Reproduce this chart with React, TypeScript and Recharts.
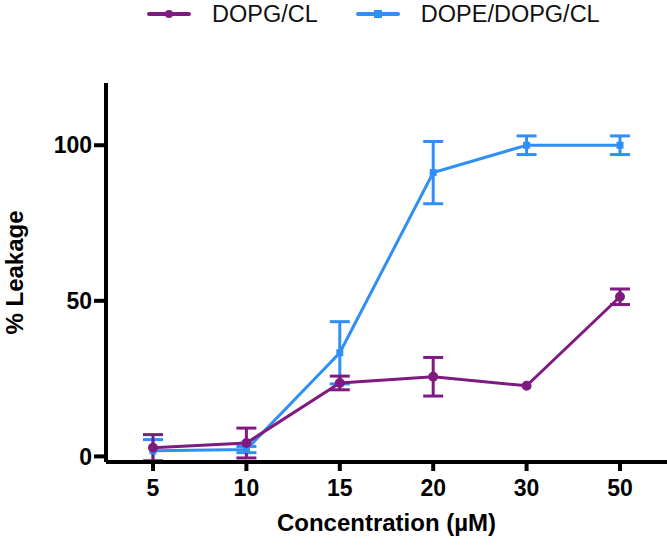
import React from 'react';
import { LineChart, Line, XAxis, YAxis, ErrorBar, Label } from 'recharts';

const concentrations = ['5', '10', '15', '20', '30', '50'];
const dopgCl = [2.8, 4.3, 23.6, 25.6, 22.7, 51.3];
const dopgClErr = [4.2, 4.8, 2.2, 6.2, 0, 2.5];
const dopeDopgCl = [1.8, 2.2, 33.3, 91.2, 100, 100];
const dopeDopgClErr = [3.6, 1, 10, 10, 3, 3];
const yTicks = [0, 50, 100];

const PURPLE = '#7f1a80';
const BLUE = '#2f8ff5';
const FONT = 'Arial, "Liberation Sans", sans-serif';

const data = concentrations.map((c, i) => ({
    conc: c,
    pg: dopgCl[i],
    pgErr: dopgClErr[i],
    pe: dopeDopgCl[i],
    peErr: dopeDopgClErr[i],
}));

const SquareDot = (props: any) => {
    const { cx, cy } = props;
    if (cx == null || cy == null) return null;
    return <rect x={cx - 3.5} y={cy - 3.5} width={7} height={7} fill={BLUE} />;
};

const LegendItem = ({ color, label, square }: { color: string; label: string; square?: boolean }) => (
    <div style={{ display: 'flex', alignItems: 'center' }}>
        <svg width={44} height={12} style={{ marginRight: 21 }}>
            <line x1={2} y1={6} x2={42} y2={6} stroke={color} strokeWidth={4} strokeLinecap="round" />
            {square ? <rect x={18} y={2} width={8} height={8} fill={color} /> : <circle cx={22} cy={6} r={4} fill={color} />}
        </svg>
        <span style={{ fontSize: 23.5, color: '#111', lineHeight: '28px' }}>{label}</span>
    </div>
);

const App: React.FC = () => {
    return (
        <div style={{ position: 'absolute', left: 0, top: 0, width: 667, height: 551, fontFamily: FONT, background: '#fff' }}>
            <div style={{ position: 'absolute', left: 147, top: 0, display: 'flex' }}>
                <LegendItem color={PURPLE} label="DOPG/CL" />
                <div style={{ width: 38 }} />
                <LegendItem color={BLUE} label="DOPE/DOPG/CL" square />
            </div>
            <LineChart width={667} height={551} data={data} margin={{ top: 83, right: 0, bottom: 0, left: 0 }}>
                <XAxis
                    dataKey="conc"
                    height={89}
                    padding={{ left: 47, right: 47 }}
                    axisLine={{ stroke: '#000', strokeWidth: 4 }}
                    tickLine={{ stroke: '#000', strokeWidth: 4 }}
                    tickSize={9}
                    tick={{ fill: '#000', fontSize: 23, fontWeight: 700, fontFamily: FONT }}
                    tickMargin={9}
                >
                    <Label value="Concentration (µM)" position="insideBottom" offset={20} style={{ fill: '#000', fontSize: 24, fontWeight: 700, fontFamily: FONT }} />
                </XAxis>
                <YAxis
                    width={106}
                    domain={[0, 120]}
                    ticks={yTicks}
                    axisLine={{ stroke: '#000', strokeWidth: 4 }}
                    tickLine={{ stroke: '#000', strokeWidth: 4 }}
                    tickSize={12}
                    tick={{ fill: '#000', fontSize: 23, fontWeight: 700, fontFamily: FONT }}
                    tickMargin={2}
                >
                    <Label value="% Leakage" angle={-90} position="insideLeft" offset={14} style={{ fill: '#000', fontSize: 24, fontWeight: 700, fontFamily: FONT, textAnchor: 'middle' }} />
                </YAxis>
                <Line
                    dataKey="pe"
                    stroke={BLUE}
                    strokeWidth={3}
                    dot={<SquareDot />}
                    isAnimationActive={false}
                >
                    <ErrorBar dataKey="peErr" width={10} stroke={BLUE} strokeWidth={3} direction="y" />
                </Line>
                <Line
                    dataKey="pg"
                    stroke={PURPLE}
                    strokeWidth={3}
                    dot={{ r: 3.5, fill: PURPLE, stroke: PURPLE }}
                    isAnimationActive={false}
                >
                    <ErrorBar dataKey="pgErr" width={10} stroke={PURPLE} strokeWidth={3} direction="y" />
                </Line>
            </LineChart>
        </div>
    );
};

export default App;
